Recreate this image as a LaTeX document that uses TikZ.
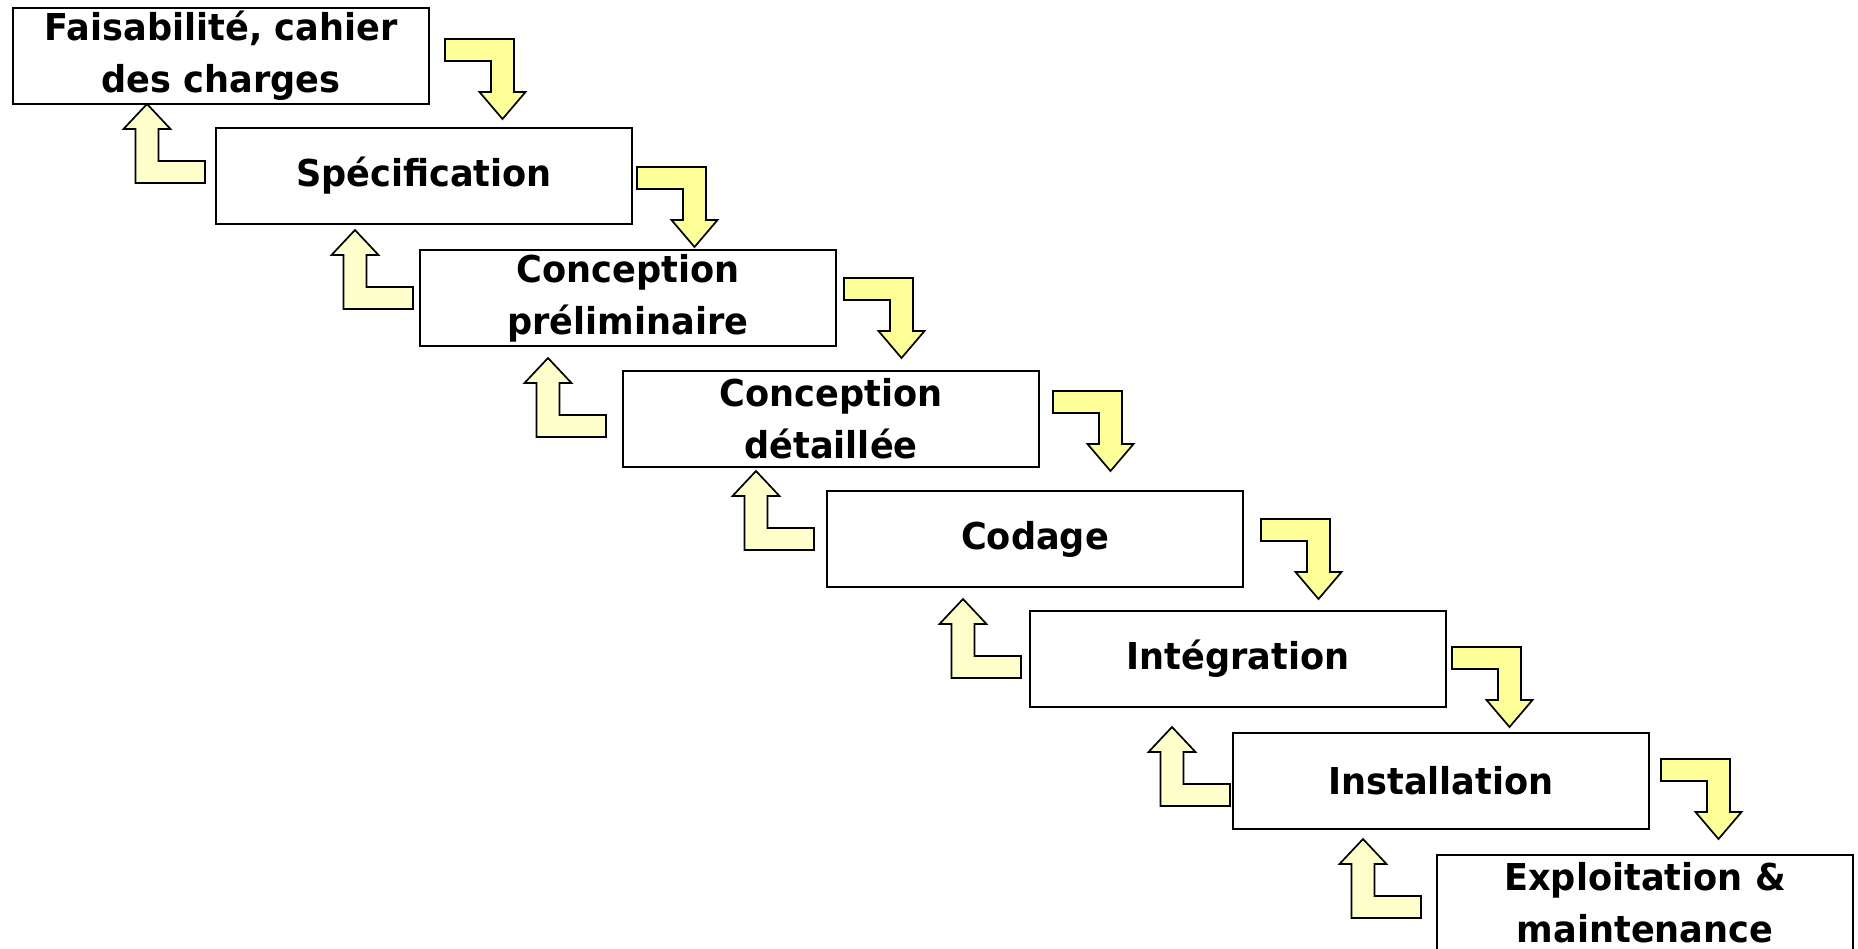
\documentclass[tikz,border=0pt]{standalone}
\usepackage{fontspec}
\setmainfont{DejaVu Sans}[FakeStretch=0.95]
\definecolor{fwdyellow}{HTML}{FFFF99}
\definecolor{backyellow}{HTML}{FFFFCC}
\tikzset{
  stage/.style={draw=black, line width=1.8pt, fill=white, rectangle,
    minimum width=416pt, minimum height=96pt, inner sep=0pt, align=center,
    font=\fontsize{37}{52}\selectfont\bfseries},
  fwd/.style={draw=black, line width=1.7pt, fill=fwdyellow, line join=miter},
  back/.style={draw=black, line width=1.7pt, fill=backyellow, line join=miter},
  % bent arrow going right then down; origin = top-left corner of the bar
  fwdarrow/.pic={\draw[fwd] (0,0) -- (69,0) -- (69,53) -- (80.5,53) -- (57.5,80)
      -- (34.5,53) -- (46,53) -- (46,22) -- (0,22) -- cycle;},
  % bent arrow going left then up; origin = tip of the head
  backarrow/.pic={\draw[back] (0,0) -- (23.5,25) -- (11.5,25) -- (11.5,57) -- (58,57)
      -- (58,79) -- (-11.5,79) -- (-11.5,25) -- (-23.5,25) -- cycle;},
}
\begin{document}
\begin{tikzpicture}[x=1pt,y=-1pt]
\useasboundingbox (0,0) rectangle (1858,948);

% phases of the waterfall
\node[stage] (s1) at (221,56)  {Faisabilité, cahier\\des charges};
\node[stage] (s2) at (424,176) {Spécification};
\node[stage] (s3) at (628,298) {Conception\\préliminaire};
\node[stage] (s4) at (831,419) {Conception\\détaillée};
\node[stage] (s5) at (1035,539) {Codage};
\node[stage] (s6) at (1238,659) {Intégration};
\node[stage] (s7) at (1441,781) {Installation};
\node[stage] (s8) at (1645,903) {Exploitation \&\\maintenance};

% forward arrows between consecutive phases
\pic at (445,39)   {fwdarrow};
\pic at (637,167)  {fwdarrow};
\pic at (844,278)  {fwdarrow};
\pic at (1053,391) {fwdarrow};
\pic at (1261,519) {fwdarrow};
\pic at (1452,647) {fwdarrow};
\pic at (1661,759) {fwdarrow};

% feedback arrows back to the previous phase
\pic at (147,104)  {backarrow};
\pic at (355,230)  {backarrow};
\pic at (548,358)  {backarrow};
\pic at (756,471)  {backarrow};
\pic at (963,599)  {backarrow};
\pic at (1172,727) {backarrow};
\pic at (1363,839) {backarrow};
\end{tikzpicture}
\end{document}
